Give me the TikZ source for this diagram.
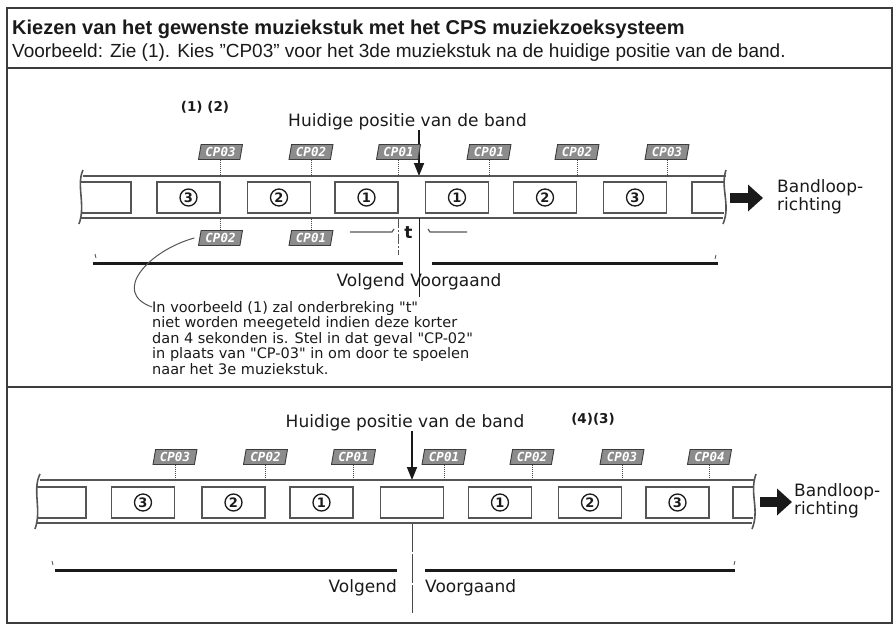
\documentclass[tikz,border=0pt]{standalone}
\usepackage{fontspec}
\setmainfont{Liberation Sans}
\newfontfamily\diag{DejaVu Sans}
\newfontfamily\lcd{DejaVu Sans Mono}
\usepackage{tikz}
\usetikzlibrary{arrows.meta,positioning,calc,shapes.geometric}
\usepackage{xcolor}
\definecolor{ink}{HTML}{1A1A1A}
\definecolor{tapeink}{HTML}{555555}
\definecolor{lcdfill}{HTML}{8C8C8C}
\newcommand{\setfs}[2]{\fontsize{#1}{#2}\selectfont}
\tikzset{
  >=Latex,
  every node/.style={text=ink},
  frame/.style={draw=ink!85,line width=1.5pt},
  tape/.style={draw=tapeink,line width=1.6pt},
  song/.style={draw=tapeink,line width=1.5pt,minimum width=63pt,minimum height=31pt,inner sep=0pt},
  num/.style={circle,draw=ink,line width=1.3pt,minimum size=17pt,inner sep=0pt,font=\diag\setfs{13}{13}\bfseries},
  cplabel/.style={trapezium,trapezium left angle=78,trapezium right angle=102,trapezium stretches=true,draw=ink!85,line width=0.9pt,fill=lcdfill,text=white,minimum width=44pt,minimum height=15pt,inner sep=0pt,font=\lcd\setfs{12.5}{12.5}\bfseries\itshape},
  cue/.style={densely dotted,draw=ink!80,line width=1pt},
  posarrow/.style={-{Triangle[length=13pt,width=10pt]},line width=1.8pt,draw=ink},
  spanline/.style={line width=3pt,draw=ink},
  tickmark/.style={draw=ink!80,line width=0.8pt},
  gapline/.style={draw=tapeink,line width=1pt,dash pattern=on 10pt off 2pt on 2pt off 2pt},
  cutline/.style={draw=ink!80,line width=1pt,dash pattern=on 29pt off 2pt},
  dirarrow/.style={line width=10pt,draw=ink,-{Triangle[length=15pt,width=26pt]}},
  lbl/.style={font=\diag\setfs{17}{18},inner sep=0pt,align=left},
  stepno/.style={font=\diag\setfs{13.5}{15}\bfseries,inner sep=0pt},
  note/.style={align=left,inner sep=0pt,font=\diag\setfs{14.5}{15.5}},
}

\begin{document}
\begin{tikzpicture}[x=1pt,y=-1pt]
\useasboundingbox (0,0) rectangle (895,626);

% frame and header
\draw[frame] (7,8) rectangle (892,623);
\draw[frame] (7,68) -- (892,68);
\draw[frame] (7,387) -- (892,387);
\node[anchor=base west,inner sep=0pt,font=\setfs{20}{22}\bfseries] (ttl) at (12,35) {Kiezen van het gewenste muziekstuk met het CPS muziekzoeksysteem};
\node[anchor=base west,inner sep=0pt,font=\setfs{19}{21}] (sub) at (12,58) {Voorbeeld: Zie (1). Kies "CP03" voor het 3de muziekstuk na de huidige positie van de band.};

% ---- example (1)(2)
\coordinate (top1) at (0,176);
\coordinate (bot1) at (0,218);
\node[stepno] (ex12) at (205,107) {(1) (2)};
\node[lbl] (pos1) at (407.5,122) {Huidige positie van de band};
\coordinate (tip1) at (419,176);
\draw[posarrow] (pos1.south -| tip1) -- (tip1);

\draw[tape] (83,176) -- (726,176);
\draw[tape] (80,218) -- (723,218);
\draw[tape] (83,170) .. controls (76,185) and (86,205) .. (79,224);
\draw[tape] (726,170) .. controls (720,188) and (731,205) .. (723,224);

\draw[tape] (81,182) -| (131,213) -- (81,213);
\node[song] (a3) at (188.5,197.5) {};
\node[num] (a3n) at (a3) {3};
\node[song] (a2) at (279,197.5) {};
\node[num] (a2n) at (a2) {2};
\node[song] (a1) at (366.5,197.5) {};
\node[num] (a1n) at (a1) {1};
\node[song] (b1) at (457,197.5) {};
\node[num] (b1n) at (b1) {1};
\node[song] (b2) at (545,197.5) {};
\node[num] (b2n) at (b2) {2};
\node[song] (b3) at (635,197.5) {};
\node[num] (b3n) at (b3) {3};
\draw[tape] (725,182) -| (692,213) -- (724,213);

\node[cplabel] (ka3) at (220.5,152) {CP03};
\node[cplabel] (ka2) at (311,152) {CP02};
\node[cplabel] (ka1) at (398.5,152) {CP01};
\node[cplabel] (kb1) at (489,152) {CP01};
\node[cplabel] (kb2) at (577,152) {CP02};
\node[cplabel] (kb3) at (667,152) {CP03};
\draw[cue] (ka3) -- (ka3 |- top1);
\draw[cue] (ka2) -- (ka2 |- top1);
\draw[cue] (ka1) -- (ka1 |- top1);
\draw[cue] (kb1) -- (kb1 |- top1);
\draw[cue] (kb2) -- (kb2 |- top1);
\draw[cue] (kb3) -- (kb3 |- top1);

\node[cplabel] (kc2) at (220.5,238) {CP02};
\node[cplabel] (kc1) at (311,238) {CP01};
\draw[cue] (kc2) -- (kc2 |- bot1);
\draw[cue] (kc1) -- (kc1 |- bot1);

% pause t
\draw[gapline] (a1.south east |- bot1) -- ++(0,37);
\draw[draw=ink,line width=1pt] (tip1 |- bot1) -- (419,297);
\node[font=\diag\setfs{17}{17}\bfseries,inner sep=0pt] (tt) at (408.5,233) {t};
\draw[tape,line width=1.2pt] (350,232) -- (392,232) -- (394,229);
\draw[tape,line width=1.2pt] (428,229) -- (430,232) -- (467,232);

\draw[spanline] (93,263) -- (403,263);
\draw[spanline] (432,263) -- (718,263);
\draw[tickmark] (95,254) -- (96,258);
\draw[tickmark] (716,255) -- (715,259);
\node[lbl] (vv1) at (419,282) {Volgend Voorgaand};

\node[note,anchor=north west] (nt) at (152,301)
{In voorbeeld (1) zal onderbreking "t"\\
niet worden meegeteld indien deze korter\\
dan 4 sekonden is. Stel in dat geval "CP-02"\\
in plaats van "CP-03" in om door te spoelen\\
naar het 3e muziekstuk.};
\draw[draw=ink!75,line width=1pt] ([xshift=-5pt]kc2.west) .. controls (150,250) and (110,292) .. ([yshift=-6pt]nt.north west);

\node[lbl,anchor=west] (dir1) at (777,197) {Bandloop-\\richting};
\coordinate (dt1) at (730,198);
\draw[dirarrow] (dt1) -- ([xshift=-14pt]dir1.west |- dt1);

% ---- example (4)(3)
\coordinate (top2) at (0,480);
\coordinate (bot2) at (0,523);
\node[lbl] (pos2) at (405,423) {Huidige positie van de band};
\node[stepno] (ex43) at (593,419) {(4)(3)};
\coordinate (tip2) at (412,480);
\draw[posarrow] (pos2.south -| tip2) -- (tip2);

\draw[tape] (40,480) -- (755,480);
\draw[tape] (36,523) -- (752,523);
\draw[tape] (40,474) .. controls (32,490) and (42,510) .. (35,529);
\draw[tape] (756,474) .. controls (749,493) and (760,510) .. (752,529);

\draw[tape] (37,487) -| (86,518) -- (37,518);
\node[song] (c3) at (143,502.5) {};
\node[num] (c3n) at (c3) {3};
\node[song] (c2) at (233.5,502.5) {};
\node[num] (c2n) at (c2) {2};
\node[song] (c1) at (321.5,502.5) {};
\node[num] (c1n) at (c1) {1};
\node[song] (c0) at (412,502.5) {};
\node[song] (d1) at (500,502.5) {};
\node[num] (d1n) at (d1) {1};
\node[song] (d2) at (590,502.5) {};
\node[num] (d2n) at (d2) {2};
\node[song] (d3) at (677.5,502.5) {};
\node[num] (d3n) at (d3) {3};
\draw[tape] (754,487) -| (733,518) -- (753,518);

\node[cplabel] (kd3) at (175,457) {CP03};
\node[cplabel] (kd2) at (265.5,457) {CP02};
\node[cplabel] (kd1) at (353.5,457) {CP01};
\node[cplabel] (ke1) at (444,457) {CP01};
\node[cplabel] (ke2) at (532,457) {CP02};
\node[cplabel] (ke3) at (622,457) {CP03};
\node[cplabel] (ke4) at (709.5,457) {CP04};
\draw[cue] (kd3) -- (kd3 |- top2);
\draw[cue] (kd2) -- (kd2 |- top2);
\draw[cue] (kd1) -- (kd1 |- top2);
\draw[cue] (ke1) -- (ke1 |- top2);
\draw[cue] (ke2) -- (ke2 |- top2);
\draw[cue] (ke3) -- (ke3 |- top2);
\draw[cue] (ke4) -- (ke4 |- top2);

\draw[cutline] (tip2 |- bot2) -- (412,613);
\draw[spanline] (55,570) -- (397,570);
\draw[spanline] (425,570) -- (735,570);
\draw[tickmark] (52,561) -- (53,565);
\draw[tickmark] (735,561) -- (734,565);
\node[lbl,anchor=east] (vg2) at (397,588) {Volgend};
\node[lbl,anchor=west] (vr2) at (425,588) {Voorgaand};

\node[lbl,anchor=west] (dir2) at (794,501) {Bandloop-\\richting};
\coordinate (dt2) at (760,502);
\draw[dirarrow] (dt2) -- ([xshift=-2pt]dir2.west |- dt2);

\end{tikzpicture}
\end{document}
